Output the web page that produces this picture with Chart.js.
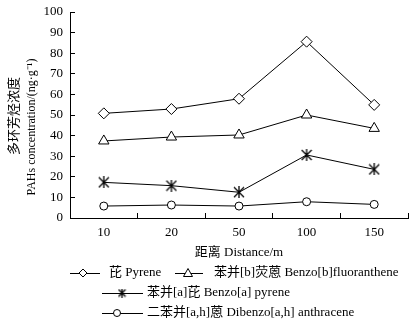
<!DOCTYPE html>
<html lang="zh">
<head>
    <meta charset="UTF-8">
    <title>PAHs concentration vs distance</title>
    <script src="https://cdn.jsdelivr.net/npm/chart.js"></script>
    <style>
        html, body { margin: 0; padding: 0; background: #fff; }
        #chart { display: block; }
    </style>
</head>
<body>
    <canvas id="chart" width="419" height="328"></canvas>

    <script>
        // data
        const distances = ['10', '20', '50', '100', '150'];
        const pyrene = [50.8, 52.9, 57.9, 85.6, 54.9];
        const benzoBF = [37.4, 39.3, 40.3, 50.0, 43.5];
        const benzoAP = [17.3, 15.7, 12.5, 30.6, 23.6];
        const dibenzoAH = [5.8, 6.3, 5.8, 7.9, 6.6];
        const yTicks = [0, 10, 20, 30, 40, 50, 60, 70, 80, 90, 100];

        const seriesNames = ['芘 Pyrene', '苯并[b]荧蒽 Benzo[b]fluoranthene', '苯并[a]芘 Benzo[a] pyrene', '二苯并[a,h]蒽 Dibenzo[a,h] anthracene'];

        const FONT = '"Liberation Serif", "Times New Roman", "Noto Sans CJK SC", serif';
        const PLOT_TOP = 12;

        // asterisk marker: X with a vertical bar
        function makeStar(size) {
            const c = document.createElement('canvas');
            c.width = size; c.height = size;
            const g = c.getContext('2d');
            g.strokeStyle = '#000';
            g.lineWidth = 1.3;
            g.beginPath();
            g.moveTo(1, 1); g.lineTo(size - 1, size - 1);
            g.moveTo(size - 1, 1); g.lineTo(1, size - 1);
            g.moveTo(size / 2, 0); g.lineTo(size / 2, size);
            g.stroke();
            return c;
        }
        const starBig = makeStar(12);
        const starSmall = makeStar(9);

        function drawMarker(ctx, style, x, y) {
            ctx.save();
            ctx.strokeStyle = '#000';
            ctx.fillStyle = '#fff';
            ctx.lineWidth = 1;
            ctx.beginPath();
            if (style === 'diamond') {
                ctx.moveTo(x, y - 4); ctx.lineTo(x + 4, y); ctx.lineTo(x, y + 4); ctx.lineTo(x - 4, y); ctx.closePath();
                ctx.fill(); ctx.stroke();
            } else if (style === 'triangle') {
                ctx.moveTo(x, y - 4.5); ctx.lineTo(x + 4.5, y + 3.5); ctx.lineTo(x - 4.5, y + 3.5); ctx.closePath();
                ctx.fill(); ctx.stroke();
            } else if (style === 'circle') {
                ctx.arc(x, y, 3.5, 0, Math.PI * 2);
                ctx.fill(); ctx.stroke();
            } else {
                ctx.drawImage(starSmall, x - 4.5, y - 4.5);
            }
            ctx.restore();
        }

        // legend laid out like the figure: two items, then one per row
        const legendItems = [
            { style: 'diamond', x1: 70, x2: 100, mx: 83, tx: 109, y: 273 },
            { style: 'triangle', x1: 175, x2: 203, mx: 188, tx: 214, y: 273 },
            { style: 'star', x1: 102, x2: 143, mx: 122, tx: 147, y: 293 },
            { style: 'circle', x1: 102, x2: 143, mx: 117, tx: 147, y: 313 }
        ];

        const figPlugin = {
            id: 'figExtras',
            afterDraw(chart) {
                const ctx = chart.ctx;
                ctx.save();
                ctx.font = '13px ' + FONT;
                ctx.textBaseline = 'middle';
                ctx.fillStyle = '#000';
                legendItems.forEach((it, i) => {
                    ctx.strokeStyle = '#000';
                    ctx.lineWidth = 1;
                    ctx.beginPath();
                    ctx.moveTo(it.x1, it.y + 0.5);
                    ctx.lineTo(it.x2, it.y + 0.5);
                    ctx.stroke();
                    drawMarker(ctx, it.style, it.mx, it.y);
                    ctx.fillText(seriesNames[i], it.tx, it.y);
                });

                // y axis title, two lines
                ctx.textAlign = 'center';
                ctx.translate(15, 116);
                ctx.rotate(-Math.PI / 2);
                ctx.font = '13px ' + FONT;
                ctx.fillText('多环芳烃浓度', 0, 0);
                ctx.font = '12px ' + FONT;
                ctx.fillText('PAHs concentration/(ng·g⁻¹)', -11, 17);
                ctx.restore();
            }
        };

        const common = {
            borderColor: '#000',
            borderWidth: 1,
            pointBackgroundColor: '#fff',
            pointBorderColor: '#000',
            pointBorderWidth: 1,
            tension: 0,
            fill: false
        };

        const chart = new Chart(document.getElementById('chart'), {
            type: 'line',
            data: {
                labels: distances,
                datasets: [
                    { ...common, label: seriesNames[0], data: pyrene, pointStyle: 'rectRot', pointRadius: 5.5 },
                    { ...common, label: seriesNames[1], data: benzoBF, pointStyle: 'triangle', pointRadius: 6 },
                    { ...common, label: seriesNames[2], data: benzoAP, pointStyle: starBig, pointRadius: 6 },
                    { ...common, label: seriesNames[3], data: dibenzoAH, pointStyle: 'circle', pointRadius: 4 }
                ]
            },
            options: {
                responsive: false,
                animation: false,
                layout: { padding: { left: 0, right: 11, top: 5, bottom: 68 } },
                plugins: {
                    legend: { display: false },
                    tooltip: { enabled: false }
                },
                scales: {
                    x: {
                        offset: true,
                        grid: { offset: true, drawOnChartArea: false, drawTicks: true, tickLength: -5, color: '#000' },
                        border: { color: '#000', width: 1 },
                        ticks: { color: '#000', padding: 12, maxRotation: 0, font: { family: FONT, size: 13 } },
                        title: {
                            display: true,
                            text: '距离 Distance/m',
                            color: '#000',
                            padding: { top: 0, bottom: 0 },
                            font: { family: FONT, size: 13, lineHeight: 1.2 }
                        },
                        afterFit(scale) { scale.height = 42; }
                    },
                    y: {
                        min: 0,
                        max: 100,
                        afterBuildTicks(scale) { scale.ticks = yTicks.map(v => ({ value: v })); },
                        grid: { drawOnChartArea: false, drawTicks: true, tickLength: -5, color: '#000' },
                        border: { color: '#000', width: 1 },
                        ticks: { color: '#000', padding: 12, font: { family: FONT, size: 13 } },
                        afterFit(scale) { scale.width = 70; scale.paddingTop = 0; }
                    }
                }
            },
            plugins: [figPlugin]
        });

        // nudge the top padding until the plot area starts where the figure's does
        for (let i = 0; i < 4; i++) {
            const diff = PLOT_TOP - chart.chartArea.top;
            if (Math.abs(diff) < 0.5) break;
            chart.options.layout.padding.top += diff;
            chart.update();
        }
    </script>
</body>
</html>
